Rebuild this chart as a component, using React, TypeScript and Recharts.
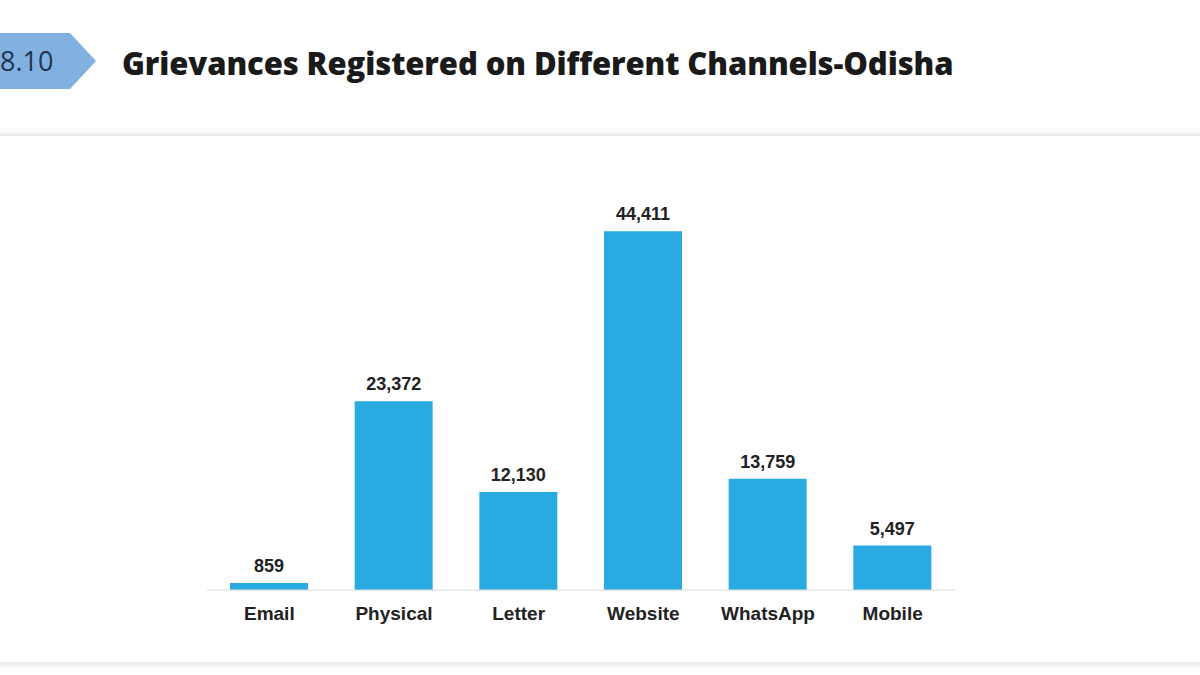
import { BarChart, Bar, XAxis, YAxis, LabelList } from "recharts";

const channels = ["Email", "Physical", "Letter", "Website", "WhatsApp", "Mobile"];
const grievances = [859, 23372, 12130, 44411, 13759, 5497];

const data = channels.map((name, i) => ({ name, value: grievances[i] }));

const fmt = (v: number) => v.toLocaleString("en-US");

const App = () => {
  return (
    <div style={{ position: "absolute", left: 0, top: 0, width: 1200, height: 675, background: "#fff", overflow: "hidden", fontFamily: "Arial, 'Liberation Sans', sans-serif" }}>
      <svg width={120} height={100} style={{ position: "absolute", left: 0, top: 0 }}>
        <polygon points="0,33 70,33 96,61 70,89 0,89" fill="#80b1e0" />
        <text x={0} y={71} fontSize={27} fill="#1f3552" fontFamily="'Open Sans', sans-serif">8.10</text>
      </svg>
      <div style={{ position: "absolute", left: 122, top: 42, fontFamily: "'Open Sans', sans-serif", fontWeight: 800, fontSize: 31, color: "#1a1a1a", whiteSpace: "nowrap", letterSpacing: -0.1 }}>
        Grievances Registered on Different Channels-Odisha
      </div>
      <div style={{ position: "absolute", left: -20, top: 136, width: 1240, height: 526, background: "#fff", boxShadow: "0 0 9px rgba(0,0,0,0.18)" }} />
      <div style={{ position: "absolute", left: 0, top: 0 }}>
        <BarChart width={1200} height={675} data={data} margin={{ top: 186, right: 245, bottom: 55, left: 207 }}>
          <YAxis hide domain={[0, 50000]} />
          <XAxis
            dataKey="name"
            tickLine={false}
            axisLine={{ stroke: "#d9d9d9" }}
            tickMargin={11}
            tick={{ fill: "#222", fontSize: 19, fontWeight: 700 }}
          />
          <Bar dataKey="value" fill="#29abe2" barSize={78} isAnimationActive={false}>
            <LabelList dataKey="value" position="top" offset={11} formatter={(v: any) => fmt(Number(v))} style={{ fill: "#222", fontSize: 18, fontWeight: 700 }} />
          </Bar>
        </BarChart>
      </div>
    </div>
  );
};

export default App;
